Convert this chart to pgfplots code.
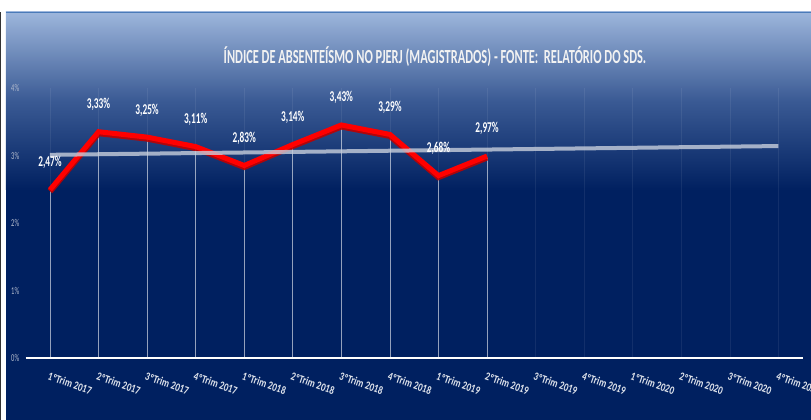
\documentclass[border=0pt]{standalone}
\usepackage{pgfplots}
\pgfplotsset{compat=1.18}
\usepackage{fontspec}
\setmainfont{Carlito}
\newfontfamily\cf[FakeStretch=0.62]{Carlito}
\newfontfamily\cft[FakeStretch=0.78]{Carlito}
\definecolor{navy}{HTML}{002060}
\definecolor{topblue}{HTML}{9DB6DC}
\definecolor{midblue}{HTML}{3A5A94}
\definecolor{framblue}{HTML}{4A7AB8}
\definecolor{trendgray}{HTML}{C8CFDC}
\definecolor{ylab}{HTML}{B4BCCE}
\begin{document}
\begin{tikzpicture}
\useasboundingbox (-25.7pt,-62pt) rectangle (785.3pt,358pt);
% background
\fill[navy] (-19.7pt,-62pt) rectangle (785.3pt,180pt);
\shade[top color=topblue, bottom color=navy, middle color=midblue]
  (-19.7pt,168pt) rectangle (785.3pt,346pt);
\draw[framblue, line width=1.2pt] (-19.7pt,345.5pt) -- (785.3pt,345.5pt);
\draw[black!80, line width=0.8pt] (-25.3pt,-62pt) -- (-25.3pt,346pt);
\begin{axis}[
 at={(0,0)}, anchor=south west,
 scale only axis, width=777pt, height=270pt,
 xmin=0.5, xmax=16.5, ymin=0, ymax=4,
 axis x line*=bottom, axis y line*=left,
 separate axis lines,
 x axis line style={white, line width=1.5pt, -},
 y axis line style={draw=none},
 major tick length=0pt,
 xtick={1,...,16},
 xticklabels={1ºTrim 2017,2ºTrim 2017,3ºTrim 2017,4ºTrim 2017,
  1ºTrim 2018,2ºTrim 2018,3ºTrim 2018,4ºTrim 2018,
  1ºTrim 2019,2ºTrim 2019,3ºTrim 2019,4ºTrim 2019,
  1ºTrim 2020,2ºTrim 2020,3ºTrim 2020,4ºTrim 2020},
 xticklabel style={font=\cft\bfseries\fontsize{11.5}{13}\selectfont, text=white!88!navy,
  rotate=-19, anchor=north west, xshift=1pt, yshift=-10pt},
 ytick={0,1,2,3,4},
 yticklabels={0\%,1\%,2\%,3\%,4\%},
 yticklabel style={font=\cf\fontsize{10.5}{11}\selectfont, text=ylab, xshift=-3pt},
 xmajorgrids, major grid style={white, opacity=0.07, line width=0.6pt},
 clip=false,
]
% drop lines
\addplot[ycomb, white, opacity=0.55, line width=0.8pt, no marks] coordinates {
 (1,2.47) (2,3.33) (3,3.25) (4,3.11) (5,2.83) (6,3.14) (7,3.43) (8,3.29) (9,2.68) (10,2.97)
};
% shadow of the series
\addplot[color=red!75!black, line width=6pt, no marks, line join=miter, opacity=0.9] coordinates {
 (1,2.47) (2,3.33) (3,3.25) (4,3.11) (5,2.83) (6,3.14) (7,3.43) (8,3.29) (9,2.68) (10,2.97)
};
\addplot[color=red, line width=5pt, no marks, line join=miter,
 transform canvas={yshift=1.5pt},
 nodes near coords={\pgfmathprintnumber[fixed,zerofill,precision=2,use comma,assume math mode=true]{\pgfplotspointmeta}\%},
 every node near coord/.append style={font=\cf\bfseries\fontsize{15}{16}\selectfont,
  text=white, anchor=south, inner sep=0pt, yshift=17pt}
] coordinates {
 (1,2.47) (2,3.33) (3,3.25) (4,3.11) (5,2.83) (6,3.14) (7,3.43) (8,3.29) (9,2.68) (10,2.97)
};
% linear trend
\addplot[trendgray, opacity=0.8, line width=4pt, no marks] coordinates {
 (1,3.01) (16,3.14)
};
\end{axis}
\node[font=\cf\bfseries\fontsize{20}{22}\selectfont, text=white!90!gray]
 at (409.3pt,301pt) {ÍNDICE DE ABSENTEÍSMO NO PJERJ (MAGISTRADOS) - FONTE:\ \ RELATÓRIO DO SDS.};
\end{tikzpicture}
\end{document}
